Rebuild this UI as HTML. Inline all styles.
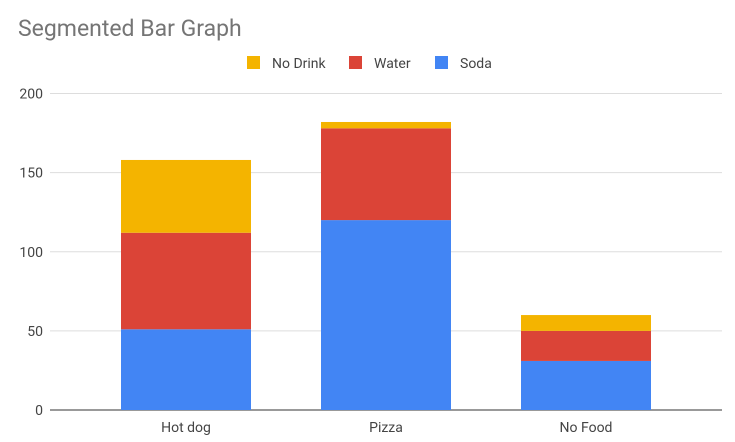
<!DOCTYPE html>
<html><head><meta charset="utf-8"><style>
body{margin:0;background:#fff;font-family:"Liberation Sans",sans-serif;}
svg text{font-family:"Roboto","Liberation Sans",sans-serif;}
</style></head><body>
<svg id="chart" width="735" height="437">
<text x="18" y="36" font-size="23" fill="#757575">Segmented Bar Graph</text>
<g id="legend"></g>
<g id="grid"></g>
<g id="bars"></g>
<g id="labels"></g>
</svg>
<script>
const categories = ["Hot dog", "Pizza", "No Food"];
const seriesNames = ["Soda", "Water", "No Drink"];
const soda = [51, 120, 31];
const water = [61, 58, 19];
const noDrink = [46, 4, 10];
const yTicks = [0, 50, 100, 150, 200];

const colors = ["#4285f4", "#db4437", "#f4b400"];
const svg = document.getElementById('chart');
const NS = "http://www.w3.org/2000/svg";
const x0 = 50, x1 = 722, yBase = 410, yTop = 93.5, yMax = 200;
const y = v => yBase - (v / yMax) * (yBase - yTop);
const band = 200, barW = 130;
const xc = i => 186 + i * band;
function mk(tag, attrs, parent) {
  const e = document.createElementNS(NS, tag);
  for (const k in attrs) e.setAttribute(k, attrs[k]);
  parent.appendChild(e); return e;
}
const grid = document.getElementById('grid');
yTicks.forEach(t => {
  const l = mk('line', {x1: x0, x2: x1, y1: y(t), y2: y(t), stroke: t === 0 ? '#333' : '#ddd', 'stroke-width': 1}, grid);
  
  
  const tx = mk('text', {x: 43, y: y(t) + 5, 'text-anchor': 'end', 'font-size': 14, fill: '#444'}, grid);
  tx.textContent = t;
  
  
});
const bars = document.getElementById('bars');
const series = [soda, water, noDrink];
categories.forEach((c, i) => {
  let acc = 0;
  series.forEach((s, k) => {
    const v = s[i];
    const r = mk('rect', {x: xc(i) - barW / 2, y: y(acc + v), width: barW, height: y(acc) - y(acc + v), fill: colors[k]}, bars);
    
    
    acc += v;
  });
  const t = mk('text', {x: xc(i), y: 432, 'text-anchor': 'middle', 'font-size': 14, fill: '#444'}, document.getElementById('labels'));
  t.textContent = c;
  
  
});
const legend = document.getElementById('legend');
const legItems = [["No Drink", colors[2], 247], ["Water", colors[1], 349], ["Soda", colors[0], 435]];
legItems.forEach(([n, col, lx]) => {
  const r = mk('rect', {x: lx, y: 56, width: 13, height: 13, fill: col}, legend);
  
  
  const t = mk('text', {x: lx + 25, y: 68, 'font-size': 14, fill: '#444'}, legend);
  t.textContent = n;
  
  
});
</script>
</body></html>
